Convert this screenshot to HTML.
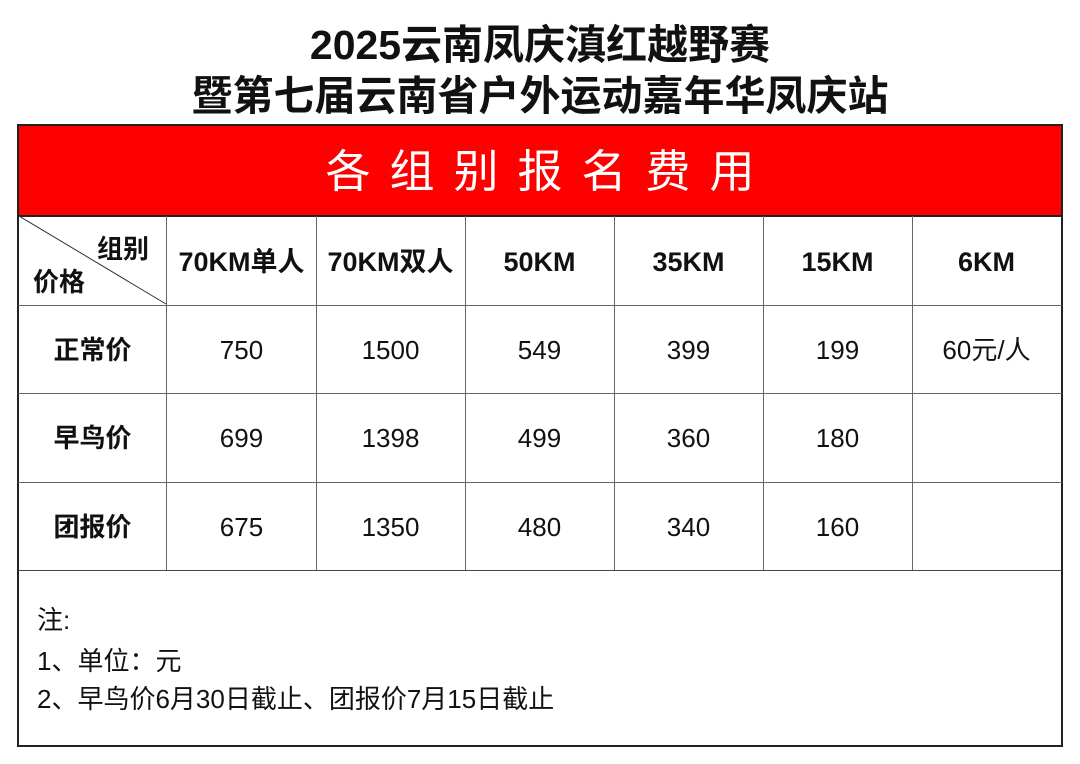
<!DOCTYPE html>
<html><head><meta charset="utf-8"><style>
body{margin:0;width:1080px;height:764px;background:#fff;position:relative;overflow:hidden;font-family:"Liberation Sans","Noto Sans CJK SC",sans-serif;color:#111}
.a{position:absolute}
.t{left:0;width:1080px;text-align:center;font-weight:bold;font-size:41px;line-height:48px}
.c{position:absolute;text-align:center;font-size:26px;line-height:30px;width:149px}
.b{font-weight:bold;font-size:26px}
.h{font-size:27px}
.vl{position:absolute;width:1px;background:#666;top:216px;height:354px}
.hl{position:absolute;height:1px;background:#666;left:18px;width:1044px}
</style></head><body>
<div class="a t" style="top:21px">2025云南凤庆滇红越野赛</div>
<div class="a t" style="top:72px">暨第七届云南省户外运动嘉年华凤庆站</div>
<div class="a" style="left:17px;top:124px;width:1042px;height:619px;border:2px solid #222"></div>
<div class="a" style="left:19px;top:126px;width:1042px;height:90px;background:#ff0000;color:#fff;font-size:45px;line-height:92px;text-align:center;letter-spacing:19px;text-indent:19px">各组别报名费用</div>
<div class="a" style="left:19px;top:215px;width:1042px;height:2px;background:#222"></div>
<div class="hl" style="top:305px"></div>
<div class="hl" style="top:393px"></div>
<div class="hl" style="top:482px"></div>
<div class="hl" style="top:570px;background:#444"></div>
<div class="vl" style="left:166px"></div>
<div class="vl" style="left:316px"></div>
<div class="vl" style="left:465px"></div>
<div class="vl" style="left:614px"></div>
<div class="vl" style="left:763px"></div>
<div class="vl" style="left:912px"></div>
<svg class="a" style="left:19px;top:216px" width="148" height="89"><line x1="0" y1="0" x2="147" y2="88" stroke="#333" stroke-width="1"/></svg>
<div class="a b" style="left:97px;top:229px">组别</div>
<div class="a b" style="left:33px;top:262px">价格</div>
<div class="c b h" style="left:167px;top:247px">70KM单人</div>
<div class="c b h" style="left:316px;top:247px">70KM双人</div>
<div class="c b h" style="left:465px;top:247px">50KM</div>
<div class="c b h" style="left:614px;top:247px">35KM</div>
<div class="c b h" style="left:763px;top:247px">15KM</div>
<div class="c b h" style="left:912px;top:247px">6KM</div>
<div class="c b" style="left:18px;top:335px">正常价</div>
<div class="c" style="left:167px;top:335px">750</div>
<div class="c" style="left:316px;top:335px">1500</div>
<div class="c" style="left:465px;top:335px">549</div>
<div class="c" style="left:614px;top:335px">399</div>
<div class="c" style="left:763px;top:335px">199</div>
<div class="c" style="left:912px;top:335px">60元/人</div>
<div class="c b" style="left:18px;top:423px">早鸟价</div>
<div class="c" style="left:167px;top:423px">699</div>
<div class="c" style="left:316px;top:423px">1398</div>
<div class="c" style="left:465px;top:423px">499</div>
<div class="c" style="left:614px;top:423px">360</div>
<div class="c" style="left:763px;top:423px">180</div>
<div class="c b" style="left:18px;top:512px">团报价</div>
<div class="c" style="left:167px;top:512px">675</div>
<div class="c" style="left:316px;top:512px">1350</div>
<div class="c" style="left:465px;top:512px">480</div>
<div class="c" style="left:614px;top:512px">340</div>
<div class="c" style="left:763px;top:512px">160</div>
<div class="a" style="left:37px;top:605px;font-size:26px;line-height:30px">注:</div>
<div class="a" style="left:37px;top:646px;font-size:26px;line-height:30px">1、单位：元</div>
<div class="a" style="left:37px;top:684px;font-size:26px;line-height:30px">2、早鸟价6月30日截止、团报价7月15日截止</div>
</body></html>
